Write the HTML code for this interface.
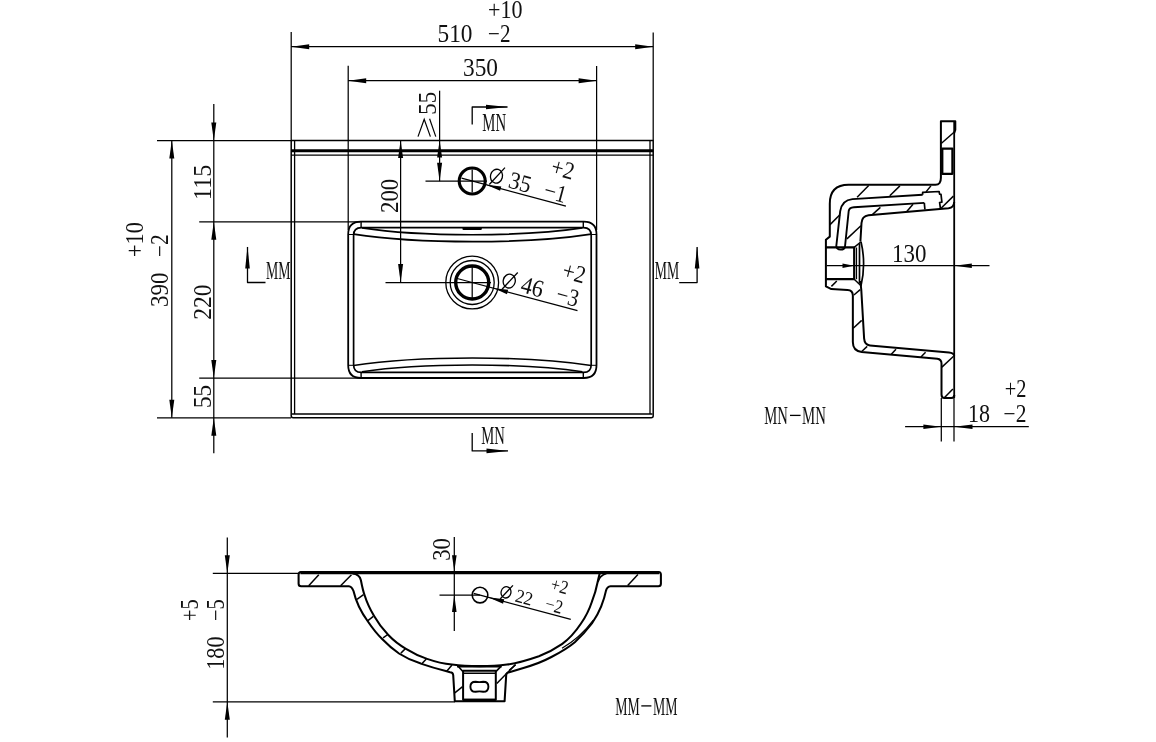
<!DOCTYPE html>
<html><head><meta charset="utf-8"><title>Basin drawing</title>
<style>
html,body{margin:0;padding:0;background:#fff;}
body{width:1156px;height:742px;overflow:hidden;}
svg{display:block;opacity:0.999;filter:grayscale(1);}
svg text{font-family:"Liberation Serif",serif;fill:#111;stroke:none;}
</style></head><body>
<svg width="1156" height="742" viewBox="0 0 1156 742" stroke="#000" fill="none" stroke-linecap="butt" stroke-linejoin="round">
<rect x="0" y="0" width="1156" height="742" fill="#fff" stroke="none"/>
<line x1="291.2" y1="32" x2="291.2" y2="140.5" stroke-width="1.25" />
<line x1="653.2" y1="32.5" x2="653.2" y2="140.5" stroke-width="1.25" />
<line x1="291.2" y1="46.7" x2="653.2" y2="46.7" stroke-width="1.25" />
<polygon points="291.20,46.70 309.20,44.20 309.20,49.20" fill="#000" stroke="none"/>
<polygon points="653.20,46.70 635.20,49.20 635.20,44.20" fill="#000" stroke="none"/>
<line x1="348.2" y1="65.7" x2="348.2" y2="230" stroke-width="1.25" />
<line x1="596.6" y1="66" x2="596.6" y2="230" stroke-width="1.25" />
<line x1="348.2" y1="80.7" x2="596.6" y2="80.7" stroke-width="1.25" />
<polygon points="348.20,80.70 366.20,78.20 366.20,83.20" fill="#000" stroke="none"/>
<polygon points="596.60,80.70 578.60,83.20 578.60,78.20" fill="#000" stroke="none"/>
<line x1="439.6" y1="90.7" x2="439.6" y2="181.2" stroke-width="1.25" />
<polygon points="439.60,140.60 442.10,157.60 437.10,157.60" fill="#000" stroke="none"/>
<polygon points="439.60,181.20 437.10,162.70 442.10,162.70" fill="#000" stroke="none"/>
<line x1="400.6" y1="140.5" x2="400.6" y2="282.5" stroke-width="1.25" />
<polygon points="400.60,140.60 403.10,158.10 398.10,158.10" fill="#000" stroke="none"/>
<polygon points="400.60,282.50 398.10,264.00 403.10,264.00" fill="#000" stroke="none"/>
<line x1="157" y1="140.5" x2="291.2" y2="140.5" stroke-width="1.25" />
<line x1="199.2" y1="221.8" x2="360" y2="221.8" stroke-width="1.25" />
<line x1="199.2" y1="378" x2="361" y2="378" stroke-width="1.25" />
<line x1="157" y1="417.8" x2="291.2" y2="417.8" stroke-width="1.25" />
<line x1="171.8" y1="140.5" x2="171.8" y2="417.8" stroke-width="1.25" />
<polygon points="171.80,140.50 174.30,158.50 169.30,158.50" fill="#000" stroke="none"/>
<polygon points="171.80,417.80 169.30,399.80 174.30,399.80" fill="#000" stroke="none"/>
<line x1="213.8" y1="104" x2="213.8" y2="453.2" stroke-width="1.25" />
<polygon points="213.80,140.50 211.30,122.50 216.30,122.50" fill="#000" stroke="none"/>
<polygon points="213.80,221.80 216.30,239.80 211.30,239.80" fill="#000" stroke="none"/>
<polygon points="213.80,378.00 211.30,360.00 216.30,360.00" fill="#000" stroke="none"/>
<polygon points="213.80,417.80 216.30,435.80 211.30,435.80" fill="#000" stroke="none"/>
<path d="M291.2,140.5H653.2V415.8Q653.2,417.8 651.2,417.8H293.2Q291.2,417.8 291.2,415.8Z" stroke-width="1.5" fill="none" />
<line x1="294.6" y1="140.5" x2="294.6" y2="414" stroke-width="1.3" />
<line x1="650" y1="140.5" x2="650" y2="414" stroke-width="1.3" />
<line x1="292" y1="414" x2="652.5" y2="414" stroke-width="1.4" />
<line x1="291.2" y1="150.7" x2="653.2" y2="150.7" stroke-width="3.1" />
<line x1="291.2" y1="155.2" x2="653.2" y2="155.2" stroke-width="1.3" />
<path d="M360.9,221.7H583.8Q596.5,221.7 596.5,234.4V365.3Q596.5,378 583.8,378H360.9Q348.2,378 348.2,365.3V234.4Q348.2,221.7 360.9,221.7Z" stroke-width="1.8" fill="none" />
<path d="M361.3,227.6H583.5Q591.2,227.6 591.2,235.3V364.7Q591.2,372.4 583.5,372.4H361.3Q353.6,372.4 353.6,364.7V235.3Q353.6,227.6 361.3,227.6Z" stroke-width="1.7" fill="none" />
<line x1="361.1" y1="221.7" x2="361.1" y2="227.6" stroke-width="1.4" />
<line x1="583.3" y1="221.7" x2="583.3" y2="227.6" stroke-width="1.4" />
<line x1="361.1" y1="372.4" x2="361.1" y2="378" stroke-width="1.4" />
<line x1="583.3" y1="372.4" x2="583.3" y2="378" stroke-width="1.4" />
<path d="M362,227.9C420,237 524,237 582.4,227.9" stroke-width="1.6" fill="none" />
<path d="M353.6,234.2C418,244.2 527,244.2 591.2,234.2" stroke-width="1.7" fill="none" />
<path d="M362,371.8C420,362.7 524,362.7 582.4,371.8" stroke-width="1.6" fill="none" />
<path d="M353.6,365.5C418,355.5 527,355.5 591.2,365.5" stroke-width="1.7" fill="none" />
<line x1="348.2" y1="234.5" x2="353.6" y2="234.5" stroke-width="1" />
<line x1="591.2" y1="234.5" x2="596.5" y2="234.5" stroke-width="1" />
<line x1="348.2" y1="365.3" x2="353.6" y2="365.3" stroke-width="1" />
<line x1="591.2" y1="365.3" x2="596.5" y2="365.3" stroke-width="1" />
<line x1="463.6" y1="228.8" x2="480.7" y2="228.8" stroke-width="2.4" stroke-linecap="round"/>
<circle cx="472.2" cy="181" r="13" stroke-width="3.1" fill="none"/>
<line x1="425.5" y1="181.2" x2="487" y2="181.2" stroke-width="1.25" />
<line x1="472.2" y1="169.5" x2="472.2" y2="192.5" stroke-width="1.25" />
<circle cx="472.2" cy="282.5" r="26.4" stroke-width="1.3" fill="none"/>
<circle cx="472.2" cy="282.5" r="22" stroke-width="1.3" fill="none"/>
<circle cx="472.2" cy="282.5" r="16.5" stroke-width="3.4" fill="none"/>
<line x1="385.5" y1="282.5" x2="491" y2="282.5" stroke-width="1.25" />
<line x1="472.2" y1="266" x2="472.2" y2="299" stroke-width="1.25" />
<g transform="translate(472.2,181) rotate(15)">
<line x1="-11" y1="0" x2="97" y2="0" stroke-width="1.25" />
<polygon points="14.50,0.00 29.50,-2.30 29.50,2.30" fill="#000" stroke="none"/>
<ellipse cx="22.2" cy="-10.9" rx="6" ry="7" stroke-width="1.3" fill="none"/>
<line x1="17.4" y1="-1.1000000000000014" x2="28.2" y2="-21.4" stroke-width="1.3" />
<text x="35.4" y="-3" font-size="24.5" textLength="22.5" lengthAdjust="spacingAndGlyphs" >35</text>
<text x="73" y="-27.1" font-size="24.5" textLength="23" lengthAdjust="spacingAndGlyphs" >+2</text>
<text x="72" y="-2.6" font-size="24.5" textLength="22.5" lengthAdjust="spacingAndGlyphs" >−1</text>
</g>
<g transform="translate(472.2,282.5) rotate(15)">
<line x1="-16.5" y1="0" x2="109" y2="0" stroke-width="1.25" />
<polygon points="22.60,0.00 36.60,-2.30 36.60,2.30" fill="#000" stroke="none"/>
<ellipse cx="35.4" cy="-11" rx="6" ry="7" stroke-width="1.3" fill="none"/>
<line x1="30.599999999999998" y1="-1.200000000000001" x2="41.4" y2="-21.5" stroke-width="1.3" />
<text x="48" y="-3.3" font-size="24.5" textLength="22.5" lengthAdjust="spacingAndGlyphs" >46</text>
<text x="84.5" y="-27.8" font-size="24.5" textLength="23" lengthAdjust="spacingAndGlyphs" >+2</text>
<text x="84.5" y="-3.3" font-size="24.5" textLength="22.5" lengthAdjust="spacingAndGlyphs" >−3</text>
</g>
<g transform="translate(480,595.1) rotate(15)">
<line x1="-6.6" y1="0" x2="94" y2="0" stroke-width="1.25" />
<polygon points="8.50,0.00 24.50,-2.30 24.50,2.30" fill="#000" stroke="none"/>
<ellipse cx="24.4" cy="-9.4" rx="4.9" ry="5.7" stroke-width="1.3" fill="none"/>
<line x1="20.479999999999997" y1="-1.4200000000000008" x2="29.299999999999997" y2="-17.950000000000003" stroke-width="1.3" />
<text x="34.6" y="-2.9" font-size="19" textLength="17.4" lengthAdjust="spacingAndGlyphs" >22</text>
<text x="65.8" y="-23.1" font-size="19" textLength="17.5" lengthAdjust="spacingAndGlyphs" >+2</text>
<text x="65.5" y="-2.9" font-size="19" textLength="17.5" lengthAdjust="spacingAndGlyphs" >−2</text>
</g>
<path d="M472.2,124.5V107H507.5" stroke-width="1.3" fill="none" />
<polygon points="508.00,107.00 486.00,109.30 486.00,104.70" fill="#000" stroke="none"/>
<text x="482.3" y="131" font-size="25" textLength="23.8" lengthAdjust="spacingAndGlyphs" >MN</text>
<path d="M472.2,433V450.9H508" stroke-width="1.3" fill="none" />
<polygon points="508.50,450.90 486.50,453.20 486.50,448.60" fill="#000" stroke="none"/>
<text x="481.2" y="443.8" font-size="25" textLength="23.6" lengthAdjust="spacingAndGlyphs" >MN</text>
<path d="M247.5,247V282.5H265.5" stroke-width="1.3" fill="none" />
<polygon points="247.50,246.50 249.80,268.50 245.20,268.50" fill="#000" stroke="none"/>
<text x="266" y="278.8" font-size="25" textLength="24.5" lengthAdjust="spacingAndGlyphs" >MM</text>
<path d="M697.1,247V282.6H679.2" stroke-width="1.3" fill="none" />
<polygon points="697.10,246.40 699.40,268.40 694.80,268.40" fill="#000" stroke="none"/>
<text x="654.8" y="278.7" font-size="25" textLength="24.4" lengthAdjust="spacingAndGlyphs" >MM</text>
<text x="488" y="17.5" font-size="24.5" textLength="34.5" lengthAdjust="spacingAndGlyphs" >+10</text>
<text x="437.5" y="42.4" font-size="24.5" textLength="35" lengthAdjust="spacingAndGlyphs" >510</text>
<text x="488" y="42.2" font-size="24.5" textLength="22.5" lengthAdjust="spacingAndGlyphs" >−2</text>
<text x="463" y="75.5" font-size="24.5" textLength="35" lengthAdjust="spacingAndGlyphs" >350</text>
<text transform="translate(210.6,200) rotate(-90)" font-size="24.5" textLength="35.2" lengthAdjust="spacingAndGlyphs">115</text>
<text transform="translate(397.5,213) rotate(-90)" font-size="24.5" textLength="34.3" lengthAdjust="spacingAndGlyphs">200</text>
<text transform="translate(210.6,319.8) rotate(-90)" font-size="24.5" textLength="35.3" lengthAdjust="spacingAndGlyphs">220</text>
<text transform="translate(210.8,408) rotate(-90)" font-size="24.5" textLength="23.2" lengthAdjust="spacingAndGlyphs">55</text>
<text transform="translate(142.5,257) rotate(-90)" font-size="24.5" textLength="35" lengthAdjust="spacingAndGlyphs">+10</text>
<text transform="translate(168,257) rotate(-90)" font-size="24.5" textLength="22.5" lengthAdjust="spacingAndGlyphs">−2</text>
<text transform="translate(168,307) rotate(-90)" font-size="24.5" textLength="34.5" lengthAdjust="spacingAndGlyphs">390</text>
<text transform="translate(436,114.8) rotate(-90)" font-size="24.5" textLength="23" lengthAdjust="spacingAndGlyphs">55</text>
<path d="M418,136.6L424.2,119.3L430.4,136.6" stroke-width="1.2" fill="none" stroke-linejoin="miter"/>
<line x1="429.6" y1="118.7" x2="435.8" y2="136.6" stroke-width="1.2" />
<line x1="954.2" y1="121" x2="954.2" y2="398" stroke-width="1.8" />
<line x1="954.0" y1="397" x2="954.0" y2="441.5" stroke-width="1.25" />
<line x1="941.3" y1="398" x2="941.3" y2="441.5" stroke-width="1.25" />
<path d="M954.2,133L955.3,129.8V121.2H940.9V177.5Q941,184.8 935.5,184.8H848.5Q829.8,184.8 829.8,203.8V236.6L825.9,239.7V286.4L831.4,289.1L847.5,290Q852.85,290.3 852.85,295.5V342Q852.85,351 861.7,352L937.3,358.7Q941.5,359.2 941.5,363.5V394.5Q941.5,398 944.5,398H951.3Q954.3,398 954.3,395" stroke-width="2.0" fill="none" />
<path d="M954.3,355.6Q953.5,353 949,352.6L870,345.4Q864.6,344.8 864.1,338.3L861.3,290L860.4,281" stroke-width="2.0" fill="none" />
<path d="M860.4,241.5L861.5,223Q861.9,216 868.5,215.2L948.5,208.2Q954,207.5 954.2,202" stroke-width="2.0" fill="none" />
<path d="M861,241.7Q866.2,263.7 861,285.7" stroke-width="1.7" fill="none" />
<path d="M825.9,247.4H854.2V279.2H825.9" stroke-width="2.2" fill="none" />
<line x1="856.5" y1="247.5" x2="856.5" y2="279.2" stroke-width="1.2" />
<line x1="859.5" y1="243.3" x2="859.5" y2="283.5" stroke-width="1.7" />
<line x1="854.2" y1="247.4" x2="861" y2="241.7" stroke-width="1.5" />
<line x1="854.2" y1="279.3" x2="861" y2="285.7" stroke-width="1.5" />
<path d="M922.65,194.7L852.4,199.1Q842,200 840.2,211.2L836.3,246Q836.6,249.6 840.5,249.6Q844.5,249.6 845,246.5L848.7,211Q849.2,207.4 853.9,207.2L924.3,202.9" stroke-width="1.9" fill="none" />
<path d="M922.65,194.7V192.4L939.1,191.5L939.6,194.1L941,194.4L941.9,202.1L939.6,202.5L940.5,208.9" stroke-width="1.7" fill="none" />
<path d="M924.3,202.9L924.9,209.5" stroke-width="1.7" fill="none" />
<path d="M942.3,148.6H952.4V173.8H942.3Z" stroke-width="2.2" fill="none" />
<line x1="857.1" y1="197.2" x2="868.7" y2="185.5" stroke-width="1.5" />
<line x1="889.8" y1="195.7" x2="899.9" y2="185.9" stroke-width="1.5" />
<line x1="926" y1="191.9" x2="930.9" y2="185.9" stroke-width="1.5" />
<line x1="872.6" y1="214.4" x2="880.4" y2="207.4" stroke-width="1.5" />
<line x1="906.8" y1="211.4" x2="913" y2="204.3" stroke-width="1.5" />
<line x1="941.3" y1="208" x2="953.4" y2="196.1" stroke-width="1.5" />
<line x1="829.8" y1="224.9" x2="839.9" y2="214.8" stroke-width="1.5" />
<line x1="941.2" y1="143.5" x2="954.6" y2="131.8" stroke-width="1.5" />
<line x1="846.9" y1="238.9" x2="860.9" y2="225.7" stroke-width="1.5" />
<line x1="831.4" y1="286.4" x2="836.8" y2="281" stroke-width="1.5" />
<line x1="853.9" y1="295" x2="860.2" y2="289.6" stroke-width="1.5" />
<line x1="853.2" y1="328.2" x2="861.7" y2="320.4" stroke-width="1.5" />
<line x1="861.7" y1="351.5" x2="867.2" y2="346.4" stroke-width="1.5" />
<line x1="891.3" y1="354.2" x2="896" y2="349.2" stroke-width="1.5" />
<line x1="920.9" y1="357" x2="925.6" y2="352.3" stroke-width="1.5" />
<line x1="941.9" y1="367.1" x2="953.6" y2="356.2" stroke-width="1.5" />
<line x1="944.3" y1="397.8" x2="952.9" y2="388.9" stroke-width="1.5" />
<line x1="826.7" y1="265.7" x2="989.5" y2="265.7" stroke-width="1.25" />
<polygon points="854.00,265.70 842.50,267.90 842.50,263.50" fill="#000" stroke="none"/>
<polygon points="954.30,265.70 971.80,263.40 971.80,268.00" fill="#000" stroke="none"/>
<text x="892" y="261.5" font-size="24.5" textLength="34.4" lengthAdjust="spacingAndGlyphs" >130</text>
<line x1="905.1" y1="426.7" x2="1028.8" y2="426.7" stroke-width="1.25" />
<polygon points="941.10,426.70 923.40,429.00 923.40,424.40" fill="#000" stroke="none"/>
<polygon points="954.00,426.70 972.50,424.40 972.50,429.00" fill="#000" stroke="none"/>
<text x="968" y="422" font-size="24.5" textLength="22" lengthAdjust="spacingAndGlyphs" >18</text>
<text x="1004.8" y="397" font-size="24.5" textLength="21.7" lengthAdjust="spacingAndGlyphs" >+2</text>
<text x="1003.6" y="422" font-size="24.5" textLength="22.9" lengthAdjust="spacingAndGlyphs" >−2</text>
<text x="764.3" y="424.2" font-size="26" textLength="23.6" lengthAdjust="spacingAndGlyphs" >MN</text>
<line x1="790" y1="415.4" x2="800.6" y2="415.4" stroke-width="1.3" />
<text x="802.1" y="424.2" font-size="26" textLength="23.8" lengthAdjust="spacingAndGlyphs" >MN</text>
<line x1="300.4" y1="572.6" x2="659.1" y2="572.6" stroke-width="3.4" />
<path d="M301,571.9Q298.6,572 298.6,574.6V583.7Q298.6,586.2 301.1,586.2H348.8Q351.8,586.4 353.5,591C356,602 361,612 367.9,621.5C373,629 378,635 381.9,638.7C388,645 394,650 399,653.5C406,658 414,661.5 420.8,663.6C430,666.8 438,669 445.8,670.9L450.1,672.2Q453,672.4 453.2,675L454.8,701.2H504.6L506.2,675Q506.3,672.6 509.3,672.2L523.4,667.9C534,665 543,661.5 551.4,657C560,652.5 568,648 574.8,642.2C581,636.5 587,630 591.9,623.5C596,617.5 599,612 601.2,606.4C603.5,600.5 605,595.5 606,590.6Q607.2,586.4 610.5,586.2H658.4Q660.9,586.2 660.9,583.7V574.6Q660.9,572 658.5,571.9" stroke-width="2.05" fill="none" />
<path d="M352.3,573.5Q359.5,574 360.9,580.2C362,586 363,591 364.8,595.8C367,603 370.5,610 374.1,616.1C378,623 383,629.5 388.1,634.8C393.5,640.5 400,645.5 406,648.8C412.5,652.8 420,656.5 427.1,658.9C436,662 444,663.8 452,664.6C461,665.8 470,666.2 479.5,666.2C489,666.2 498,665.8 507,664.6C517,663.2 528,660 538.9,656.2C547,653 555.5,648.5 562.3,643.8C569,639 576,631 581,623.5C585.5,617 589.5,609 591.9,601.7C594.5,595 596.3,589 597.4,583Q598.5,578 599.7,573.5" stroke-width="2.05" fill="none" />
<path d="M606.5,573.5Q599.5,575.5 598,582" stroke-width="1.5" fill="none" />
<path d="M593.3,620.2Q580,638 562,648.3" stroke-width="1.2" fill="none" />
<line x1="457" y1="666.3" x2="501.8" y2="666.3" stroke-width="2.6" />
<path d="M458.4,666.5L463.1,671.7M500.5,666.8L495.8,671.7" stroke-width="1.7" fill="none" />
<path d="M463.1,670.8H495.8V699.7H463.1Z" stroke-width="2" fill="none" />
<line x1="463.1" y1="673.2" x2="495.8" y2="673.2" stroke-width="1.4" />
<line x1="463.1" y1="700" x2="495.8" y2="700" stroke-width="2.4" />
<path d="M475.5,681.7Q479.4,682.6 483.3,681.7Q488.4,681.7 488.4,686.7Q488.4,691.8 483.3,691.8Q479.4,690.9 475.5,691.8Q470.4,691.8 470.4,686.7Q470.4,681.7 475.5,681.7Z" stroke-width="1.9" fill="none" />
<line x1="308.7" y1="585.7" x2="318.8" y2="574.8" stroke-width="1.5" />
<line x1="340.6" y1="585.7" x2="351.5" y2="574.8" stroke-width="1.5" />
<line x1="357" y1="599.3" x2="363.5" y2="594.6" stroke-width="1.5" />
<line x1="367.9" y1="620.7" x2="373.3" y2="616.4" stroke-width="1.5" />
<line x1="383.1" y1="637.9" x2="387.8" y2="634.5" stroke-width="1.5" />
<line x1="400.9" y1="653.1" x2="405.3" y2="648.8" stroke-width="1.5" />
<line x1="421.6" y1="664" x2="426.3" y2="658.9" stroke-width="1.5" />
<line x1="446.5" y1="671.4" x2="452" y2="665.1" stroke-width="1.5" />
<line x1="627.7" y1="585.4" x2="637.9" y2="574.5" stroke-width="1.5" />
<line x1="509.3" y1="670.3" x2="515.6" y2="664.8" stroke-width="1.5" />
<line x1="454.8" y1="692.9" x2="462.6" y2="686.7" stroke-width="1.5" />
<line x1="496.8" y1="683.6" x2="515.5" y2="664.4" stroke-width="1.5" />
<line x1="212.8" y1="573.3" x2="298.6" y2="573.3" stroke-width="1.25" />
<line x1="212.8" y1="701.8" x2="455" y2="701.8" stroke-width="1.25" />
<line x1="227.3" y1="537.5" x2="227.3" y2="737.6" stroke-width="1.25" />
<polygon points="227.30,573.30 224.80,555.30 229.80,555.30" fill="#000" stroke="none"/>
<polygon points="227.30,701.80 229.80,719.80 224.80,719.80" fill="#000" stroke="none"/>
<line x1="454.3" y1="537.1" x2="454.3" y2="631" stroke-width="1.25" />
<polygon points="454.30,571.50 452.00,555.30 456.60,555.30" fill="#000" stroke="none"/>
<polygon points="454.30,595.10 456.60,612.10 452.00,612.10" fill="#000" stroke="none"/>
<line x1="439.5" y1="595.1" x2="480" y2="595.1" stroke-width="1.25" />
<circle cx="480" cy="595.1" r="7.8" stroke-width="1.6" fill="none"/>
<text transform="translate(198,621) rotate(-90)" font-size="24.5" textLength="21.7" lengthAdjust="spacingAndGlyphs">+5</text>
<text transform="translate(223.7,621) rotate(-90)" font-size="24.5" textLength="21.7" lengthAdjust="spacingAndGlyphs">−5</text>
<text transform="translate(223.7,669.8) rotate(-90)" font-size="24.5" textLength="33.5" lengthAdjust="spacingAndGlyphs">180</text>
<text transform="translate(450.4,560.8) rotate(-90)" font-size="24.5" textLength="22.6" lengthAdjust="spacingAndGlyphs">30</text>
<text x="615.2" y="715" font-size="26" textLength="24.5" lengthAdjust="spacingAndGlyphs" >MM</text>
<line x1="641.3" y1="705.9" x2="651.4" y2="705.9" stroke-width="1.3" />
<text x="653" y="715" font-size="26" textLength="24.5" lengthAdjust="spacingAndGlyphs" >MM</text>
</svg>
</body></html>
